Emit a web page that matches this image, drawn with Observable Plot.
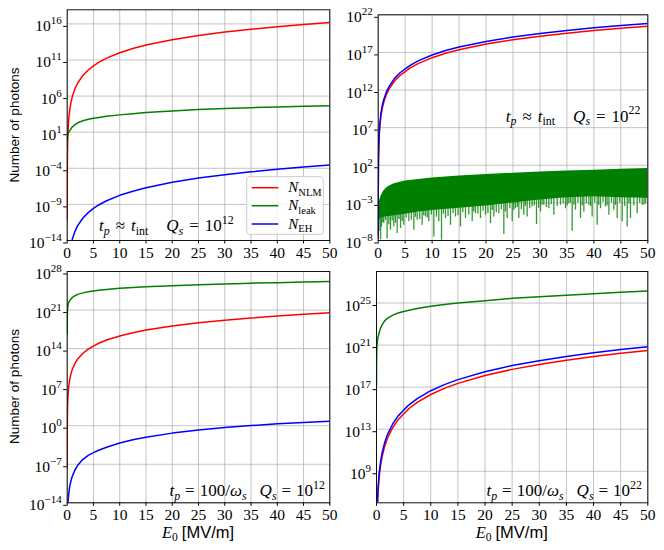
<!DOCTYPE html>
<html><head><meta charset="utf-8">
<script src="https://cdn.jsdelivr.net/npm/d3@7"></script>
<script src="https://cdn.jsdelivr.net/npm/@observablehq/plot@0.6"></script>
<style>
body{margin:0;background:#fff}
#fig{position:relative;width:664px;height:550px;overflow:hidden;background:#fff}
</style>
</head><body><div id="fig"></div>
<script>
// ---------- data ----------
const E = [0.001, 0.01, 0.05, 0.1, 0.2, 0.3, 0.5, 0.75, 1, 1.5, 2, 3, 4, 5, 6, 7.5, 10, 12.5, 15, 20, 25, 30, 35, 40, 45, 50];

// top-left: t_p ~ t_int, Q_s = 1e12
const nlmTL = [1e-11, 1e-6, 1.6e-2, 1, 65, 7.2e2, 1.55e4, 1.8e5, 1e6, 1.15e7, 6.4e7, 7.3e8, 4.1e9, 1.55e10, 4.7e10, 1.8e11, 1e12, 3.8e12, 1.15e13, 6.4e13, 2.45e14, 7.3e14, 1.8e15, 4.1e15, 8.3e15, 1.55e16];
const leakTL = [0.63, 1.26, 2.5, 4.0, 7.1, 10, 16, 32, 56, 112, 200, 380, 600, 870, 1.12e3, 1.58e3, 2.5e3, 3.7e3, 5.2e3, 8.9e3, 1.38e4, 1.9e4, 2.5e4, 3.2e4, 3.8e4, 4.5e4];
const ehTL = [null, null, null, null, null, null, null, 3.2e-15, 1.8e-14, 2.0e-13, 1.15e-12, 1.3e-11, 7.2e-11, 2.75e-10, 8.3e-10, 3.2e-9, 1.8e-8, 6.8e-8, 2.0e-7, 1.15e-6, 4.4e-6, 1.3e-5, 3.2e-5, 7.2e-5, 1.5e-4, 2.75e-4];

// red / blue for the other panels
const nlmQ22 = [2.0e-8, 2.0e-2, 3.1e2, 2.0e4, 1.3e6, 1.45e7, 3.1e8, 3.55e9, 2.0e10, 2.3e11, 1.3e12, 1.45e13, 8.1e13, 2.8e14, 9.3e14, 3.55e15, 2.0e16, 7.6e16, 2.3e17, 1.3e18, 4.9e18, 1.45e19, 3.6e19, 8.1e19, 1.66e20, 3.1e20];
const ehQ22 = [4.6e-8, 4.6e-2, 7.1e2, 4.6e4, 3.0e6, 3.3e7, 7.1e8, 8.2e9, 4.6e10, 5.2e11, 2.9e12, 3.3e13, 1.85e14, 6.5e14, 2.1e15, 8.2e15, 4.6e16, 1.75e17, 5.2e17, 2.9e18, 1.12e19, 3.3e19, 8.2e19, 1.85e20, 3.8e20, 7.1e20];

// bottom-left: t_p = 100/w_s, Q_s = 1e12
const ehBL = [null, null, null, 1e-15, 5e-14, 5e-13, 1.26e-11, 1.26e-10, 7.9e-10, 1e-8, 6.3e-8, 7.9e-7, 4e-6, 1.26e-5, 3.5e-5, 1.26e-4, 7.1e-4, 2.8e-3, 7.9e-3, 4.5e-2, 0.16, 0.45, 1.05, 2.2, 4.0, 6.6];
const leakBL = [5.0e16, 2.0e19, 7.9e20, 3.2e21, 1.26e22, 2.5e22, 5.6e22, 1.12e23, 2.0e23, 4.0e23, 7.1e23, 1.32e24, 2.1e24, 3.0e24, 4.0e24, 5.6e24, 8.9e24, 1.26e25, 1.66e25, 2.7e25, 4.0e25, 5.6e25, 7.6e25, 9.5e25, 1.2e26, 1.48e26];

// bottom-right: t_p = 100/w_s, Q_s = 1e22
const leakBR = [1.26e17, 1e19, 2.5e20, 1e21, 3.2e21, 6.3e21, 1.58e22, 4.0e22, 7.9e22, 2.0e23, 3.55e23, 7.1e23, 1.12e24, 1.58e24, 2.1e24, 3.0e24, 5.0e24, 7.2e24, 1.0e25, 1.66e25, 2.8e25, 4.0e25, 5.6e25, 7.6e25, 1.05e26, 1.38e26];

// top-right oscillating N_leak: envelope of the dense band, and its dips
const bandE = [0.1, 0.3, 0.5, 0.75, 1, 1.5, 2, 3, 5, 7.5, 10, 15, 20, 25, 30, 35, 40, 45, 50];
const leakTRmax = [6.3e-4, 2.5e-3, 6.3e-3, 1.58e-2, 3.5e-2, 8.9e-2, 0.158, 0.355, 0.79, 1.26, 2.0, 3.7, 6.0, 8.9, 12.6, 17, 22.4, 28.8, 36.3];
const leakTRfloor = [3.2e-6, 6.3e-6, 1e-5, 1.1e-5, 1.26e-5, 1.4e-5, 1.58e-5, 2.0e-5, 3.2e-5, 6.3e-5, 1e-4, 2.0e-4, 4.0e-4, 1e-3, 2.5e-3, 5e-3, 6.3e-3, 5e-3, 4e-3];
// deep dips
const dipE = [0.15, 0.45, 0.61, 1.04, 1.66, 2.28, 2.9, 3.52, 4.14, 4.75, 5.68, 6.61, 7.23, 8.15, 8.77, 9.39, 10.32, 11.24, 11.74, 12.48, 13.41, 14.33, 15.26, 16.19, 17.43, 18.04, 18.97, 19.9, 20.83, 21.45, 22.37, 23.3, 23.92, 24.85, 25.46, 26.08, 27.0, 27.63, 28.55, 29.36, 30.1, 30.72, 31.65, 32.57, 33.81, 34.74, 35.36, 35.97, 36.59, 37.52, 38.14, 39.07, 39.68, 40.61, 41.23, 42.16, 42.78, 43.7, 44.32, 45.25, 46.18, 46.79, 48.03, 48.96, 49.58];
const dipN = [1.6e-7, 1.26e-8, 6.3e-7, 1.8e-6, 1.6e-8, 2.3e-7, 6.3e-7, 8.3e-8, 3.8e-7, 1.05e-6, 3.0e-6, 2.3e-7, 4.9e-6, 1.05e-6, 1.35e-5, 3.0e-6, 3.0e-8, 3.0e-6, 1.1e-8, 8.1e-6, 1.05e-6, 1.35e-5, 6.3e-7, 8.1e-6, 3.0e-6, 3.7e-5, 8.1e-6, 2.2e-5, 1.8e-6, 1.35e-5, 3.7e-5, 6.3e-8, 8.1e-6, 3.0e-6, 1.7e-4, 8.1e-6, 2.2e-5, 1.35e-5, 2.9e-4, 1.3e-6, 6.3e-5, 4.8e-4, 1.7e-4, 2.2e-5, 4.8e-4, 1.7e-4, 7.9e-4, 1.7e-7, 1.05e-4, 8.1e-6, 6.3e-5, 4.8e-4, 1.35e-5, 1.05e-6, 1.7e-4, 2.9e-4, 2.2e-5, 1.05e-4, 8.1e-6, 3.0e-6, 6.3e-7, 8.1e-6, 3.7e-5, 4.8e-4, 7.9e-4];
// shallow dips (ragged lower edge of the band)
const dipE2 = [0.85, 1.35, 1.97, 2.6, 3.2, 3.85, 4.45, 5.2, 6.15, 6.9, 7.7, 8.45, 9.1, 9.85, 10.8, 12.1, 12.95, 13.9, 14.8, 15.7, 16.8, 17.7, 18.5, 19.45, 20.35, 21.15, 21.9, 22.85, 23.6, 24.4, 25.15, 25.8, 26.55, 27.3, 28.1, 28.95, 29.75, 30.4, 31.2, 32.1, 33.2, 34.3, 35.05, 35.65, 36.3, 37.05, 37.85, 38.6, 39.4, 40.15, 40.9, 41.7, 42.45, 43.25, 44.0, 44.8, 45.7, 46.5, 47.4, 48.5, 49.3];
const dipN2 = [2.5e-6, 5.0e-6, 1.26e-6, 4.0e-6, 2.0e-6, 6.3e-6, 3.2e-6, 1e-5, 5.0e-6, 1.26e-5,
  6.3e-6, 2.0e-5, 1e-5, 2.5e-5, 1.26e-5, 3.2e-5, 1.6e-5, 4.0e-5, 2.0e-5, 5.0e-5,
  2.5e-5, 6.3e-5, 3.2e-5, 7.9e-5, 4.0e-5, 1e-4, 5.0e-5, 1.26e-4, 6.3e-5, 1.6e-4,
  1e-4, 2.5e-4, 1.26e-4, 3.2e-4, 1.6e-4, 4.0e-4, 2.0e-4, 5.0e-4, 2.5e-4, 6.3e-4,
  3.2e-4, 7.9e-4, 4.0e-4, 1e-3, 5.0e-4, 1e-3, 4.0e-4, 7.9e-4, 3.2e-4, 1e-3,
  5.0e-4, 1.26e-3, 4.0e-4, 1e-3, 5.0e-4, 1e-3, 3.2e-4, 7.9e-4, 4.0e-4, 1e-3, 5.0e-4];

// ticks
const xTicks = [0, 5, 10, 15, 20, 25, 30, 35, 40, 45, 50];
const yTicksTL = [1e-14, 1e-9, 1e-4, 1e1, 1e6, 1e11, 1e16];
const yTicksTR = [1e-8, 1e-3, 1e2, 1e7, 1e12, 1e17, 1e22];
const yTicksBL = [1e-14, 1e-7, 1e0, 1e7, 1e14, 1e21, 1e28];
const yTicksBR = [1e9, 1e13, 1e17, 1e21, 1e25];

const RED = "#ff0000", GREEN = "#008000", BLUE = "#0000ff";

// ---------- helpers ----------
const ns = "http://www.w3.org/2000/svg";
function el(tag, attrs = {}) { const e = document.createElementNS(ns, tag); for (const k in attrs) e.setAttribute(k, attrs[k]); return e; }
function fmtExp(d) { const e = Math.round(Math.log10(d)); return "10^" + (e < 0 ? "\u2212" + (-e) : String(e)); }
function supify(svg) {
  svg.querySelectorAll("text").forEach(t => {
    const m = /^10\^(.+)$/.exec(t.textContent);
    if (!m) return;
    while (t.firstChild) t.removeChild(t.firstChild);
    const a = el("tspan"); a.textContent = "10";
    const b = el("tspan", {dy: -7, "font-size": 11}); b.textContent = m[1];
    t.append(a, b);
  });
}
const rows = (xs, ys) => xs.map((x, i) => ({x, y: ys[i]})).filter(d => d.y != null);
const line = (ys, color) => Plot.line(rows(E, ys), {x: "x", y: "y", stroke: color, strokeWidth: 1.5, clip: true});

const fig = document.getElementById("fig");
function panel(o) {
  const svg = Plot.plot({
    width: o.w, height: o.h,
    marginLeft: o.mL, marginRight: o.mR, marginTop: o.mT, marginBottom: o.mB,
    x: {domain: [0, 50]},
    y: {type: "log", domain: o.yDomain},
    style: {position: "absolute", left: o.left + "px", top: o.top + "px", overflow: "visible",
            background: "transparent", fontFamily: "'Liberation Serif', serif", fontSize: "15.5px", color: "#000"},
    marks: [
      Plot.gridX(xTicks, {stroke: "#b0b0b0", strokeOpacity: 0.75, strokeWidth: 1}),
      Plot.gridY(o.yTicks, {stroke: "#b0b0b0", strokeOpacity: 0.75, strokeWidth: 1}),
      ...o.marks,
      Plot.frame({stroke: "#111", strokeWidth: 1}),
      Plot.axisX(xTicks, {tickSize: 3.5, tickPadding: 2.5, fontSize: 15.5, tickFormat: d => String(d), label: null}),
      Plot.axisY(o.yTicks, {tickSize: 3.5, tickPadding: 2, fontSize: 15.5, tickFormat: fmtExp, label: null, dy: 2.5})
    ]
  });
  supify(svg);
  fig.appendChild(svg);
}

// top-left
panel({left: 0, top: 0, w: 332, h: 262, mL: 66.7, mR: 2.7, mT: 9.3, mB: 22,
  yDomain: [1e-14, 8.9e17], yTicks: yTicksTL,
  marks: [line(nlmTL, RED), line(leakTL, GREEN), line(ehTL, BLUE)]});

// top-right
const bandRows = bandE.map((x, i) => ({x, lo: leakTRfloor[i], hi: leakTRmax[i]}));
const dipRows = dipE.map((x, i) => ({x, y: dipN[i], top: x < 0.5 ? 5e-4 : 1e-2}))
  .concat(dipE2.map((x, i) => ({x, y: dipN2[i], top: 1e-2})));
panel({left: 332, top: 0, w: 332, h: 262, mL: 45.7, mR: 16.7, mT: 14.3, mB: 22,
  yDomain: [1e-8, 1e22], yTicks: yTicksTR,
  marks: [
    line(nlmQ22, RED),
    Plot.ruleX(dipRows, {x: "x", y1: "y", y2: "top", stroke: GREEN, strokeWidth: 1.3, strokeOpacity: 0.8, clip: true}),
    Plot.areaY(bandRows, {x: "x", y1: "lo", y2: "hi", fill: GREEN, clip: true}),
    line(ehQ22, BLUE)
  ]});

// bottom-left
panel({left: 0, top: 262, w: 332, h: 288, mL: 66.7, mR: 2.7, mT: 9, mB: 47.7,
  yDomain: [1e-14, 1e28], yTicks: yTicksBL,
  marks: [line(nlmQ22, RED), line(leakBL, GREEN), line(ehBL, BLUE)]});

// bottom-right
panel({left: 332, top: 262, w: 332, h: 288, mL: 44, mR: 16.7, mT: 9, mB: 47.7,
  yDomain: [1e6, 1e28], yTicks: yTicksBR,
  marks: [line(nlmQ22, RED), line(leakBR, GREEN), line(ehQ22, BLUE)]});

// ---------- overlay text: annotations, legend, axis titles ----------
const ov = el("svg", {width: 664, height: 550});
ov.style.position = "absolute"; ov.style.left = "0px"; ov.style.top = "0px"; ov.style.overflow = "visible";
fig.appendChild(ov);

function rich(x, y, segs, {size = 15, anchor = "start", family = "'Liberation Serif', serif"} = {}) {
  const t = el("text", {x, y, "font-size": size, "font-family": family, "text-anchor": anchor, fill: "#000"});
  let shift = 0;
  for (const s of segs) {
    const ts = el("tspan");
    const target = s.sub ? 0.22 * size : s.sup ? -0.42 * size : 0;
    const dy = target - shift; shift = target;
    if (dy) ts.setAttribute("dy", dy);
    if (s.dx) ts.setAttribute("dx", s.dx);
    if (s.sub || s.sup) ts.setAttribute("font-size", size * 0.7);
    if (s.it) ts.setAttribute("font-style", "italic");
    if (s.family) ts.setAttribute("font-family", s.family);
    ts.textContent = s.t;
    t.appendChild(ts);
  }
  ov.appendChild(t);
  return t;
}
const approx = q => [
  {t: "t", it: 1}, {t: "p", it: 1, sub: 1}, {t: "\u2248", dx: 6}, {t: "t", it: 1, dx: 6}, {t: "int", sub: 1},
  {t: "Q", it: 1, dx: 18}, {t: "s", it: 1, sub: 1}, {t: "=", dx: 6}, {t: "10", dx: 6}, {t: q, sup: 1}];
const equal = q => [
  {t: "t", it: 1}, {t: "p", it: 1, sub: 1}, {t: "=", dx: 5}, {t: "100/", dx: 5}, {t: "\u03c9", it: 1}, {t: "s", it: 1, sub: 1},
  {t: "Q", it: 1, dx: 13}, {t: "s", it: 1, sub: 1}, {t: "=", dx: 5}, {t: "10", dx: 5}, {t: q, sup: 1}];

rich(99, 231, approx("12"), {size: 17});
rich(640.5, 121.5, approx("22"), {size: 17, anchor: "end"});
rich(325, 496, equal("12"), {size: 17, anchor: "end"});
rich(642, 496, equal("22"), {size: 17, anchor: "end"});

// legend
ov.appendChild(el("rect", {x: 246.7, y: 176.7, width: 76.6, height: 57.6, rx: 3, fill: "#fff", "fill-opacity": 0.85, stroke: "#cccccc", "stroke-width": 1}));
const legendItems = [["NLM", RED, 187.7], ["leak", GREEN, 205.7], ["EH", BLUE, 224]];
for (const [sub, color, y] of legendItems) {
  ov.appendChild(el("line", {x1: 251.7, x2: 278.3, y1: y, y2: y, stroke: color, "stroke-width": 1.5}));
  rich(288.3, y + 4.5, [{t: "N", it: 1}, {t: sub, sub: 1}], {size: 15});
}

// axis titles
for (const cx of [198, 511.7]) {
  rich(cx, 537.5, [{t: "E", it: 1}, {t: "0", sub: 1}, {t: "[MV/m]", family: "'Liberation Sans', sans-serif", dx: 4}], {size: 16.5, anchor: "middle"});
}
for (const cy of [125, 386.5]) {
  const t = el("text", {x: 0, y: 0, transform: `translate(18.5,${cy}) rotate(-90)`, "font-size": 13.5,
    "font-family": "'Liberation Sans', sans-serif", "text-anchor": "middle", fill: "#000"});
  t.textContent = "Number of photons";
  ov.appendChild(t);
}
</script></body></html>
